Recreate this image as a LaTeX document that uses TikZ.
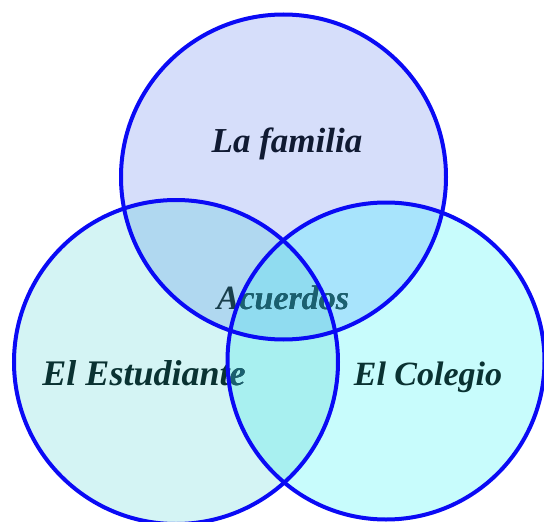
\documentclass[tikz,border=0pt]{standalone}
\usepackage{fontspec}
\setmainfont{Liberation Serif}
\definecolor{topc}{HTML}{D6DEFA}
\definecolor{leftc}{HTML}{D4F4F4}
\definecolor{rightc}{HTML}{C8FCFC}
\definecolor{tlc}{HTML}{B0D8F0}
\definecolor{trc}{HTML}{A8E4FC}
\definecolor{lrc}{HTML}{A8F0F0}
\definecolor{allc}{HTML}{90DCF0}
\definecolor{ringc}{HTML}{0A0AF5}
\definecolor{navyt}{HTML}{101A32}
\definecolor{tealt}{HTML}{0A3232}
\definecolor{acut}{HTML}{183E4C}
\definecolor{lightt}{HTML}{1A6070}
\begin{document}
\begin{tikzpicture}[x=1pt,y=-1pt,
  ring/.style={draw=ringc,line width=4pt},
  lbl/.style={anchor=base,inner sep=0pt,font=\fontsize{34}{40}\selectfont\bfseries\itshape}]
\useasboundingbox (0,0) rectangle (544,522);
\fill[white] (0,0) rectangle (544,522);
\coordinate (T) at (283.5,177);
\coordinate (L) at (176,362);
\coordinate (R) at (386,361);
\def\rT{162.5}\def\rL{162}\def\rR{158.5}
% base fills
\fill[topc] (T) circle [radius=\rT];
\fill[leftc] (L) circle [radius=\rL];
\fill[rightc] (R) circle [radius=\rR];
% pairwise overlaps
\begin{scope}
  \clip (L) circle [radius=\rL];
  \fill[lrc] (R) circle [radius=\rR];
\end{scope}
\begin{scope}
  \clip (T) circle [radius=\rT];
  \fill[tlc] (L) circle [radius=\rL];
  \fill[trc] (R) circle [radius=\rR];
  \clip (L) circle [radius=\rL];
  \fill[allc] (R) circle [radius=\rR];
\end{scope}
% labels
\node[lbl,text=navyt,font=\fontsize{35}{40}\selectfont\bfseries\itshape] (fam) at (287,152) {La familia};
\node[lbl,text=tealt,font=\fontsize{36}{40}\selectfont\bfseries\itshape] (est) at (144,385) {El Estudiante};
\node[lbl,text=tealt] (col) at (428,385) {El Colegio};
\node[lbl,text=acut] (acu) at (283,309) {Acuerdos};
\begin{scope}
  \clip (R) circle [radius=\rR];
  \node[lbl,text=lightt,font=\fontsize{36}{40}\selectfont\bfseries\itshape] (est2) at (144,385) {El Estudiante};
  \node[lbl,text=lightt] (acu2) at (283,309) {Acuerdos};
\end{scope}
% outlines
\draw[ring] (T) circle [radius=\rT];
\draw[ring] (L) circle [radius=\rL];
\draw[ring] (R) circle [radius=\rR];
\end{tikzpicture}
\end{document}
